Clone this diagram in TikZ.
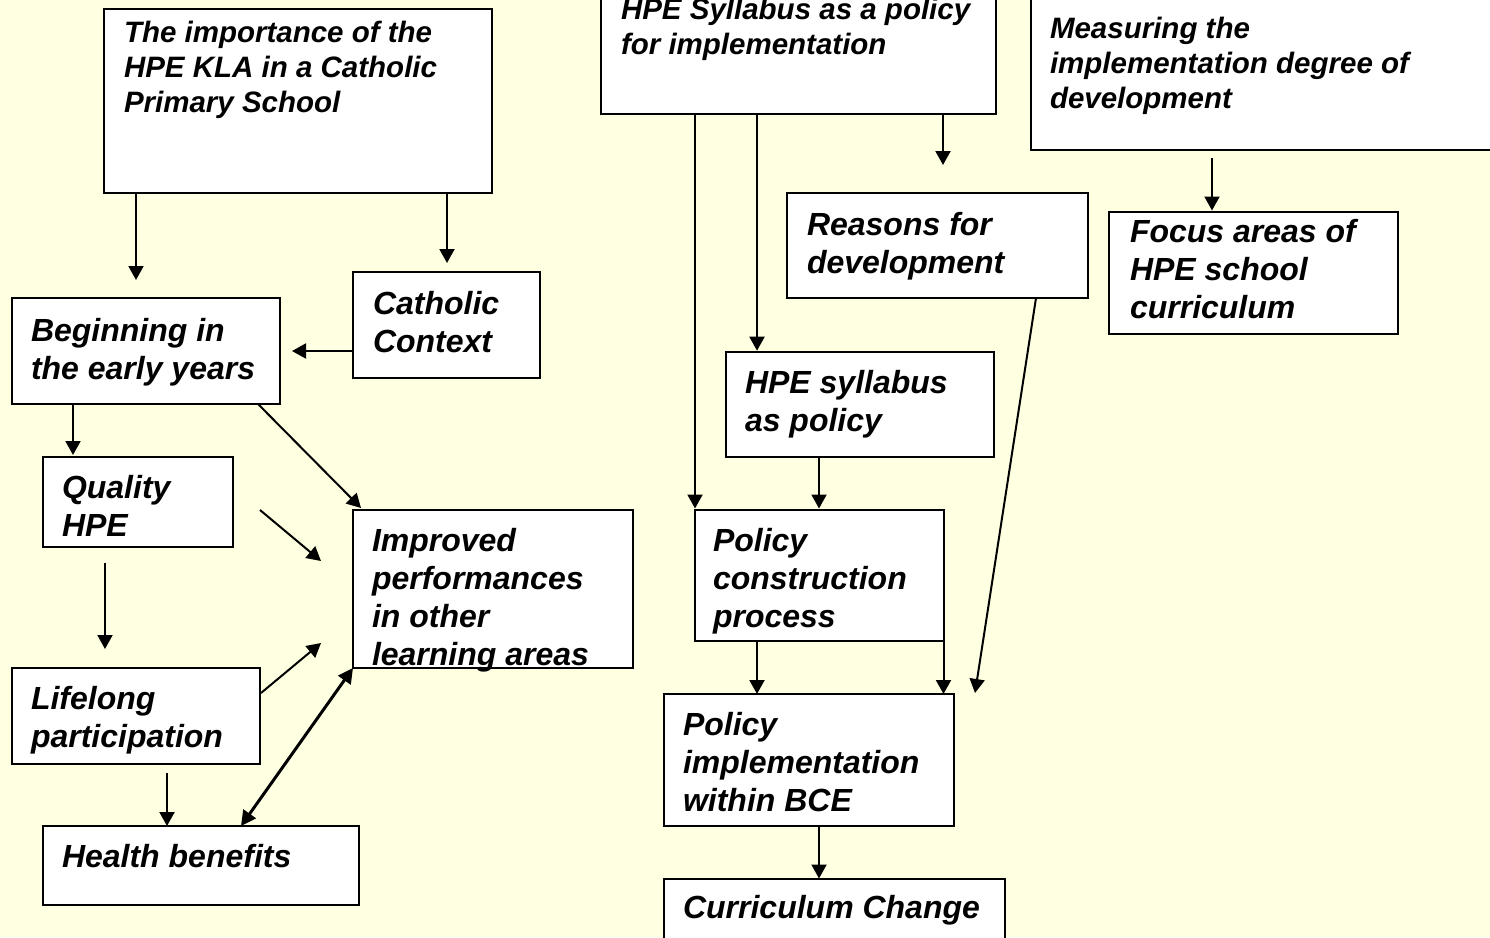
\documentclass[tikz,border=0pt]{standalone}
\usepackage{fontspec}
\setmainfont{Liberation Sans}
\usetikzlibrary{arrows.meta}
\definecolor{bgyellow}{RGB}{255,255,225}
\begin{document}
\begin{tikzpicture}[x=1pt,y=-1pt,
  box/.style={draw=black, line width=2pt, fill=white, rectangle, anchor=north west, inner sep=0pt, outer sep=0pt},
  bigtxt/.style={anchor=north west, inner sep=0pt, outer sep=0pt, align=left, font=\fontsize{32}{38}\selectfont\bfseries\itshape},
  smalltxt/.style={anchor=north west, inner sep=0pt, outer sep=0pt, align=left, font=\fontsize{29.5}{35}\selectfont\bfseries\itshape},
  arr/.style={line width=2pt, -{Triangle[length=14pt,width=15pt]}},
  dblarr/.style={line width=3pt, {Triangle[length=15pt,width=15pt]}-{Triangle[length=15pt,width=15pt]}}
]
\useasboundingbox (0,0) rectangle (1490,937);
\fill[bgyellow] (0,0) rectangle (1490,937);

% boxes
\node[box, minimum width=388pt, minimum height=184pt] (imp) at (104,9) {};
\node[box, minimum width=395pt, minimum height=134pt] (syl) at (601,-20) {};
\node[box, minimum width=480pt, minimum height=170pt] (meas) at (1031,-20) {};
\node[box, minimum width=301pt, minimum height=105pt] (reas) at (787,193) {};
\node[box, minimum width=289.5pt, minimum height=122.5pt] (focus) at (1108.5,211.5) {};
\node[box, minimum width=187pt, minimum height=105.4pt] (cath) at (353,272.3) {};
\node[box, minimum width=268pt, minimum height=105.7pt] (beg) at (11.5,298.3) {};
\node[box, minimum width=268.5pt, minimum height=105pt] (hsp) at (725.5,351.7) {};
\node[box, minimum width=190pt, minimum height=90.6pt] (qual) at (42.5,456.7) {};
\node[box, minimum width=280pt, minimum height=158pt] (impr) at (353,510) {};
\node[box, minimum width=248.5pt, minimum height=131.5pt] (pc) at (695,509.5) {};
\node[box, minimum width=248.5pt, minimum height=96pt] (life) at (11.5,668.3) {};
\node[box, minimum width=290pt, minimum height=132pt] (pi) at (663.5,694) {};
\node[box, minimum width=316pt, minimum height=79pt] (health) at (42.5,826) {};
\node[box, minimum width=341.5pt, minimum height=80pt] (cc) at (663.5,878.5) {};

% texts
\node[smalltxt] (timp) at (124,17.5) {\strut The importance of the\\HPE KLA in a Catholic\\Primary School};
\node[smalltxt] (tsyl) at (621,-5.5) {\strut HPE Syllabus as a policy\\for implementation};
\node[smalltxt] (tmeas) at (1050,13.8) {\strut Measuring the\\implementation degree of\\development};
\node[bigtxt] (treas) at (807,208.5) {\strut Reasons for\\development};
\node[bigtxt] (tfocus) at (1130,216) {\strut Focus areas of\\HPE school\\curriculum};
\node[bigtxt] (tcath) at (373,288) {\strut Catholic\\Context};
\node[bigtxt] (tbeg) at (31,315) {\strut Beginning in\\the early years};
\node[bigtxt] (thsp) at (745,367) {\strut HPE syllabus\\as policy};
\node[bigtxt] (tqual) at (62,472) {\strut Quality\\HPE};
\node[bigtxt] (timpr) at (372,525) {\strut Improved\\performances\\in other\\learning areas};
\node[bigtxt] (tpc) at (713,525) {\strut Policy\\construction\\process};
\node[bigtxt] (tlife) at (31,683) {\strut Lifelong\\participation};
\node[bigtxt] (tpi) at (683,709) {\strut Policy\\implementation\\within BCE};
\node[bigtxt] (thealth) at (62,840.5) {\strut Health benefits};
\node[bigtxt] (tcc) at (683,892) {\strut Curriculum Change};

% connector end points
\coordinate (a1) at (136,280);
\coordinate (a2) at (447,263);
\coordinate (a3) at (292,351);
\coordinate (a4) at (73,455);
\coordinate (b1) at (258,404);
\coordinate (b2) at (361,508);
\coordinate (q1) at (260,510);
\coordinate (q2) at (321,561);
\coordinate (q3) at (105,563);
\coordinate (q4) at (105,649);
\coordinate (l1) at (261,693);
\coordinate (l2) at (321,643);
\coordinate (l3) at (167,773);
\coordinate (h1) at (241,826);
\coordinate (s2) at (757,0);
\coordinate (s3) at (943,165);
\coordinate (m1) at (1212,158);
\coordinate (p1) at (819,0);
\coordinate (r1) at (1036,298);
\coordinate (r2) at (975,693);

% connectors
\draw[arr] (imp.south -| a1) -- (a1);
\draw[arr] (imp.south -| a2) -- (a2);
\draw[arr] (cath.west |- a3) -- (a3);
\draw[arr] (beg.south -| a4) -- (a4);
\draw[arr] (b1) -- (b2);
\draw[arr] (q1) -- (q2);
\draw[arr] (q3) -- (q4);
\draw[arr] (l1) -- (l2);
\draw[arr] (l3) -- (health.north -| l3);
\draw[dblarr] (h1) -- (impr.south west);
\draw[arr] (syl.south -| pc.west) -- ([yshift=1pt]pc.north west);
\draw[arr] (syl.south -| s2) -- ([yshift=1pt]hsp.north -| s2);
\draw[arr] (syl.south -| s3) -- (s3);
\draw[arr] (m1) -- ([yshift=1pt]focus.north -| m1);
\draw[arr] (hsp.south -| p1) -- ([yshift=1pt]pc.north -| p1);
\draw[arr] (pc.south -| s2) -- (pi.north -| s2);
\draw[arr] (pc.south east) -- (pi.north -| pc.east);
\draw[arr] (r1) -- (r2);
\draw[arr] (pi.south -| p1) -- (cc.north -| p1);
\end{tikzpicture}
\end{document}
